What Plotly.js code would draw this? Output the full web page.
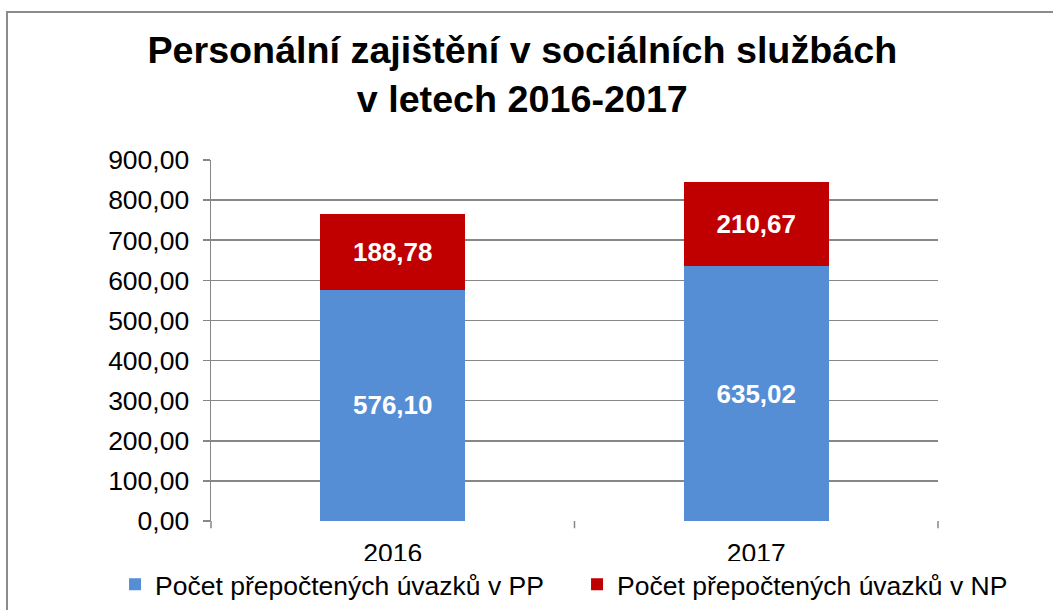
<!DOCTYPE html>
<html>
<head>
<meta charset="utf-8">
<script src="https://cdn.plot.ly/plotly-3.0.1.min.js"></script>
<style>
html,body{margin:0;padding:0;overflow:hidden;background:#fff;}
#frame{position:absolute;left:6px;top:11px;width:1100px;height:700px;border:2px solid #8c8c8c;box-sizing:border-box;pointer-events:none;z-index:5;}
#chart{position:absolute;left:0;top:0;width:1053px;height:610px;}
</style>
</head>
<body>
<div id="chart"></div>
<div id="frame"></div>
<script>
const years = ['2016', '2017'];
const seriesPP = [576.10, 635.02];
const seriesNP = [188.78, 210.67];
const namePP = 'Počet přepočtených úvazků v PP';
const nameNP = 'Počet přepočtených úvazků v NP';
const yTicks = [0, 100, 200, 300, 400, 500, 600, 700, 800, 900];

const font = 'Liberation Sans, Arial, sans-serif';

const traces = [
  {
    type: 'bar', x: years, y: seriesPP, name: namePP,
    marker: {color: '#558ed5'},
    texttemplate: '%{y:.2f}', textposition: 'inside', insidetextanchor: 'middle',
    textfont: {family: font, size: 26, color: '#ffffff', weight: 'bold'},
    hoverinfo: 'skip'
  },
  {
    type: 'bar', x: years, y: seriesNP, name: nameNP,
    marker: {color: '#c00000'},
    texttemplate: '%{y:.2f}', textposition: 'inside', insidetextanchor: 'middle',
    textfont: {family: font, size: 26, color: '#ffffff', weight: 'bold'},
    hoverinfo: 'skip'
  }
];

const layout = {
  width: 1053, height: 610,
  separators: ', ',
  barmode: 'stack', bargap: 0.6,
  font: {family: font, color: '#000'},
  paper_bgcolor: '#fff', plot_bgcolor: '#fff',
  margin: {l: 211, r: 115, t: 160, b: 89, autoexpand: false},
  title: {
    text: '<b>Personální zajištění v sociálních službách<br>v letech 2016-2017</b>',
    font: {family: font, size: 37.7, color: '#000'},
    x: 0.496, xanchor: 'center', y: 0.896, yanchor: 'middle', yref: 'container'
  },
  xaxis: {
    type: 'category',
    tickfont: {family: font, size: 26.5, color: '#000'},
    showline: false, ticks: '', showgrid: false,
    ticklabelstandoff: 13
  },
  yaxis: {
    range: [0, 900], tickvals: yTicks, tickformat: '.2f',
    tickfont: {family: font, size: 26.5, color: '#000'},
    showgrid: true, gridcolor: '#878787', gridwidth: 1.5,
    showline: true, linecolor: '#878787', linewidth: 1.5,
    ticks: 'outside', ticklen: 7, tickcolor: '#878787', tickwidth: 1.5,
    ticklabelstandoff: 8,
    zeroline: false
  },
  showlegend: true,
  legend: {
    orientation: 'h',
    x: -0.132, xanchor: 'left', y: -0.176, yanchor: 'middle',
    font: {family: font, size: 26.5, color: '#000'},
    traceorder: 'normal', itemwidth: 30, tracegroupgap: 0,
    entrywidth: 417
  },
  shapes: [
    {type: 'line', xref: 'paper', yref: 'paper', x0: 0, x1: 0, y0: 0, y1: -0.02, line: {color: '#878787', width: 1.5}},
    {type: 'line', xref: 'paper', yref: 'paper', x0: 0.5, x1: 0.5, y0: 0, y1: -0.02, line: {color: '#878787', width: 1.5}},
    {type: 'line', xref: 'paper', yref: 'paper', x0: 1, x1: 1, y0: 0, y1: -0.02, line: {color: '#878787', width: 1.5}}
  ]
};

Plotly.newPlot('chart', traces, layout, {staticPlot: true, displayModeBar: false});
</script>
</body>
</html>
